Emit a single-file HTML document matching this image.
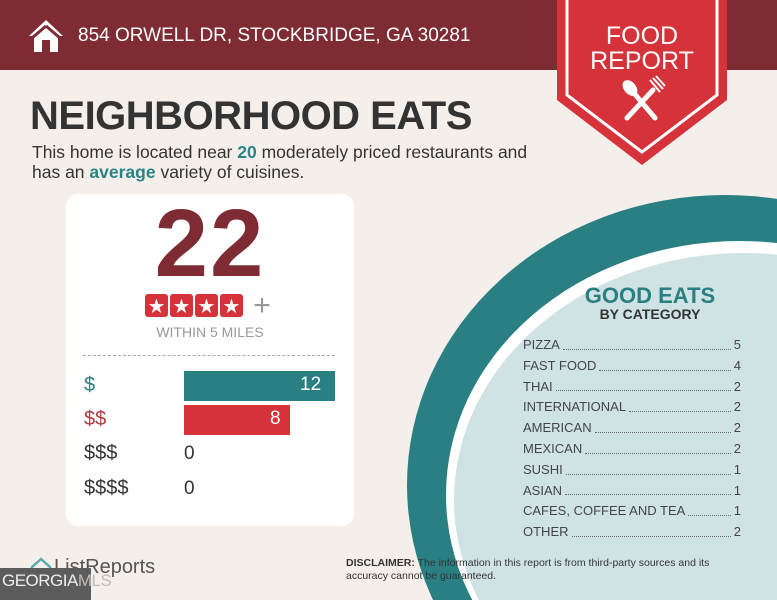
<!DOCTYPE html>
<html><head><style>
html,body{margin:0;width:777px;height:600px;overflow:hidden}
body{background:#f4efeb;font-family:"Liberation Sans",sans-serif;position:relative}
.a{position:absolute}
</style></head><body>
<div class="a" style="left:0;top:0;width:777px;height:70px;background:#7e2b33"></div>
<svg class="a" style="left:26px;top:18px" width="40" height="36" viewBox="0 0 40 36"><path d="M20 2 L3 18 L8 18 L8 34 L16 34 L16 22 L24 22 L24 34 L32 34 L32 18 L37 18 Z" fill="#fff"/><path d="M20 8 L6 20 M20 8 L34 20" stroke="#7e2b33" stroke-width="3"/></svg>
<div class="a" style="left:78px;top:25px;color:#fff;font-size:19px">854 ORWELL DR, STOCKBRIDGE, GA 30281</div>
<svg class="a" style="left:555px;top:0" width="175" height="168" viewBox="0 0 175 168"><path d="M2 0 L2 100 L87 165 L172 100 L172 0 Z" fill="#d6323a"/><path d="M12 0 L12 95 L87 152 L162 95 L162 0" fill="none" stroke="#fff" stroke-width="3"/>
<text x="87" y="44" fill="#fff" font-size="25" text-anchor="middle" font-family="Liberation Sans">FOOD</text><text x="87" y="69" fill="#fff" font-size="25" text-anchor="middle" font-family="Liberation Sans">REPORT</text>
<g stroke="#fff" stroke-width="5" stroke-linecap="round"><line x1="72" y1="118" x2="98" y2="90"/><line x1="100" y1="118" x2="78" y2="92"/></g><ellipse cx="75" cy="88" rx="6" ry="9" fill="#fff" transform="rotate(-40 75 88)"/><g stroke="#fff" stroke-width="2"><line x1="95" y1="80" x2="105" y2="92"/><line x1="98" y1="78" x2="108" y2="89"/><line x1="101" y1="76" x2="110" y2="86"/></g></svg>
<div class="a" style="left:30px;top:94px;font-size:40px;font-weight:bold;color:#333;letter-spacing:-0.5px">NEIGHBORHOOD EATS</div>
<div class="a" style="left:32px;top:142px;font-size:17.5px;color:#333;line-height:20px">This home is located near <b style="color:#2a8384">20</b> moderately priced restaurants and<br>has an <b style="color:#2a8384">average</b> variety of cuisines.</div>
<svg class="a" style="left:0;top:0" width="777" height="600"><ellipse cx="725" cy="485" rx="318" ry="290" fill="#2a7f83"/><ellipse cx="740" cy="495" rx="294" ry="254" fill="#fff"/><ellipse cx="744" cy="500" rx="290" ry="247" fill="#d0e3e4"/></svg>
<div class="a" style="left:66px;top:194px;width:288px;height:332px;background:#fff;border-radius:12px"></div>
<div class="a" style="left:66px;top:198px;width:288px;text-align:center;font-size:96px;font-weight:bold;color:#7e2b33;line-height:92px;letter-spacing:2px">22</div>
<svg class="a" style="left:144px;top:292px" width="135" height="28"><g fill="#d6323a"><rect x="1" y="2" width="23" height="23" rx="3"/><rect x="26" y="2" width="23" height="23" rx="3"/><rect x="51" y="2" width="23" height="23" rx="3"/><rect x="76" y="2" width="23" height="23" rx="3"/></g><g fill="#fff" font-size="20" text-anchor="middle"><text x="12.5" y="21">★</text><text x="37.5" y="21">★</text><text x="62.5" y="21">★</text><text x="87.5" y="21">★</text></g><text x="118" y="23" fill="#999" font-size="30" text-anchor="middle">+</text></svg>
<div class="a" style="left:66px;top:324px;width:288px;text-align:center;font-size:14px;color:#999">WITHIN 5 MILES</div>
<div class="a" style="left:83px;top:355px;width:252px;border-top:1px dashed #aaa"></div>
<div class="a" style="left:184px;top:371px;width:151px;height:30px;background:#2a7f83"></div>
<div class="a" style="left:184px;top:405px;width:106px;height:30px;background:#d6323a"></div>
<div class="a" style="left:300px;top:374px;font-size:19px;color:#fff">12</div>
<div class="a" style="left:270px;top:408px;font-size:19px;color:#fff">8</div>
<div class="a" style="left:84px;top:374px;font-size:20px;color:#2a7f83">$</div>
<div class="a" style="left:84px;top:408px;font-size:20px;color:#b53840">$$</div>
<div class="a" style="left:84px;top:442px;font-size:20px;color:#333">$$$</div>
<div class="a" style="left:84px;top:477px;font-size:20px;color:#333">$$$$</div>
<div class="a" style="left:184px;top:443px;font-size:19px;color:#333">0</div>
<div class="a" style="left:184px;top:478px;font-size:19px;color:#333">0</div>
<div class="a" style="left:560px;top:283px;width:180px;text-align:center;font-size:22px;font-weight:bold;color:#2a7f83">GOOD EATS</div>
<div class="a" style="left:560px;top:306px;width:180px;text-align:center;font-size:14px;font-weight:bold;color:#333">BY CATEGORY</div>
<div class="a" style="left:523px;top:335px;width:218px;font-size:13px;color:#444;line-height:20.8px">
<div style="display:flex"><span>PIZZA</span><span style="flex:1;border-bottom:1px dotted #666;margin:0 3px 6px"></span><span>5</span></div>
<div style="display:flex"><span>FAST FOOD</span><span style="flex:1;border-bottom:1px dotted #666;margin:0 3px 6px"></span><span>4</span></div>
<div style="display:flex"><span>THAI</span><span style="flex:1;border-bottom:1px dotted #666;margin:0 3px 6px"></span><span>2</span></div>
<div style="display:flex"><span>INTERNATIONAL</span><span style="flex:1;border-bottom:1px dotted #666;margin:0 3px 6px"></span><span>2</span></div>
<div style="display:flex"><span>AMERICAN</span><span style="flex:1;border-bottom:1px dotted #666;margin:0 3px 6px"></span><span>2</span></div>
<div style="display:flex"><span>MEXICAN</span><span style="flex:1;border-bottom:1px dotted #666;margin:0 3px 6px"></span><span>2</span></div>
<div style="display:flex"><span>SUSHI</span><span style="flex:1;border-bottom:1px dotted #666;margin:0 3px 6px"></span><span>1</span></div>
<div style="display:flex"><span>ASIAN</span><span style="flex:1;border-bottom:1px dotted #666;margin:0 3px 6px"></span><span>1</span></div>
<div style="display:flex"><span>CAFES, COFFEE AND TEA</span><span style="flex:1;border-bottom:1px dotted #666;margin:0 3px 6px"></span><span>1</span></div>
<div style="display:flex"><span>OTHER</span><span style="flex:1;border-bottom:1px dotted #666;margin:0 3px 6px"></span><span>2</span></div>
</div>
<div class="a" style="left:346px;top:557px;font-size:10.5px;color:#333;line-height:13px"><b>DISCLAIMER:</b> The information in this report is from third-party sources and its<br>accuracy cannot be guaranteed.</div>
<svg class="a" style="left:30px;top:557px" width="22" height="22"><path d="M11 2 L2 10 L2 20 L20 20 L20 10 Z" fill="none" stroke="#5aa9ad" stroke-width="2.5"/></svg>
<div class="a" style="left:54px;top:556px;font-size:20px;color:#555">ListReports</div>
<div class="a" style="left:0;top:568px;width:91px;height:32px;background:#5c5c5c"></div>
<div class="a" style="left:2px;top:571px;font-size:17px;color:#eee;letter-spacing:-0.5px">GEORGIA<span style="color:#bbb">MLS</span></div>
</body></html>
